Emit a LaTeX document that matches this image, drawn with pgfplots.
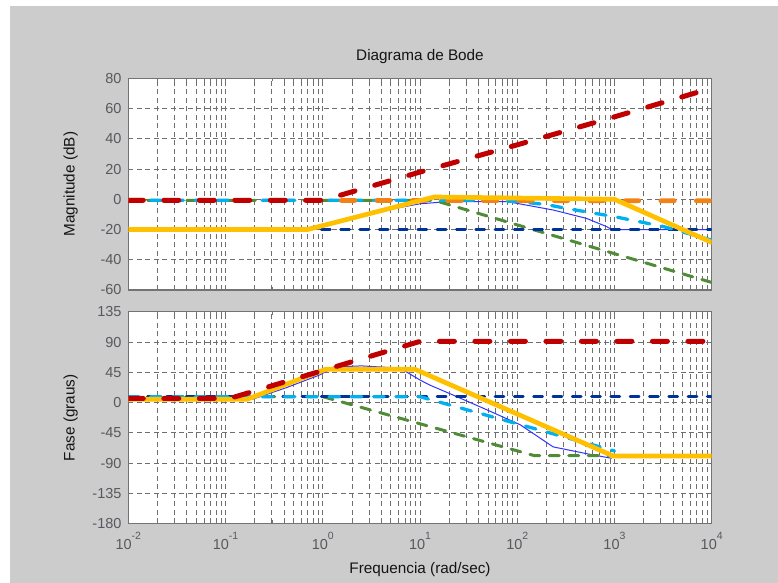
\documentclass[border=0pt]{standalone}
\usepackage{pgfplots}
\pgfplotsset{compat=1.18}
\usepackage{fontspec}
\setmainfont{Liberation Sans}
\definecolor{bg}{RGB}{204,204,204}
\definecolor{axc}{RGB}{115,115,115}
\definecolor{gridc}{RGB}{110,110,110}
\definecolor{lblc}{RGB}{88,88,95}
\definecolor{txtc}{RGB}{20,20,20}
\definecolor{red1}{RGB}{192,0,0}
\definecolor{org}{RGB}{242,130,20}
\definecolor{cyn}{RGB}{0,176,240}
\definecolor{navy}{RGB}{0,51,153}
\definecolor{grn}{RGB}{80,140,55}
\definecolor{ylw}{RGB}{255,192,0}
\definecolor{blue1}{RGB}{51,51,255}
\newcommand{\tsup}[1]{\raisebox{10.5bp}{\fontsize{10.5bp}{12bp}\selectfont #1}}
\begin{document}
\begin{tikzpicture}
\fill[white] (0,0) rectangle (778bp,583bp);
\fill[bg] (10bp,0) rectangle (778bp,577bp);
\begin{axis}[at={(128.3bp,293bp)}, anchor=south west,
  xmode=log, xmin=0.01, xmax=10000,
  scale only axis, width=583.4bp, height=211.7bp,
  axis background/.style={fill=white},
  xtick={0.01,0.1,1,10,100,1000,10000},
  minor xtick={0.02,0.03,0.04,0.05,0.06,0.07,0.08,0.09,0.2,0.3,0.4,0.5,0.6,0.7,0.8,0.9,2,3,4,5,6,7,8,9,20,30,40,50,60,70,80,90,200,300,400,500,600,700,800,900,2000,3000,4000,5000,6000,7000,8000,9000},
  xmajorgrids, xminorgrids, ymajorgrids,
  major grid style={draw=gridc, dash pattern=on 5bp off 3.5bp, line width=0.85bp},
  minor grid style={draw=gridc, dash pattern=on 5bp off 3.5bp, line width=0.85bp},
  axis line style={draw=axc, line width=1.2bp},
  tick style={draw=axc, line width=0.8bp},
  major tick length=5bp, minor tick length=3bp, tick align=inside,
  ticklabel style={font=\fontsize{14.5bp}{17bp}\selectfont, text=lblc, inner sep=0pt},
  yticklabel style={xshift=-6.6bp},
  title style={at={(axis description cs:0.5,1.0581)}, anchor=base, font=\fontsize{15.3bp}{18bp}\selectfont, text=txtc},
  ylabel style={at={(axis description cs:-0.0986,0.5)}, anchor=center, font=\fontsize{15.3bp}{18bp}\selectfont, text=txtc},
  ymin=-60, ymax=80,
  ytick={-60,-40,-20,0,20,40,60,80}, yticklabels={-60,-40,-20,0,20,40,60,80},
  xticklabels={}, title={Diagrama de Bode}, ylabel={Magnitude (dB)}]
\addplot[blue1, line width=1bp] coordinates {(0.01,-20) (0.6,-20) (1,-16.5) (2,-12) (4.6,-7) (10,-3) (20,-1.5) (80,-1.6) (234,-7.1) (513,-12.6) (832,-18.1) (933,-20) (10000,-20)};
\addplot[grn, line width=3bp, dash pattern=on 10bp off 9.5bp, line cap=round] coordinates {(0.01,-0.7) (14,-0.7) (10000,-55)};
\addplot[navy, line width=2.7bp, dash pattern=on 9bp off 10.3bp, line cap=round] coordinates {(0.01,-20) (10000,-20)};
\addplot[cyn, line width=3.3bp, dash pattern=on 10.5bp off 11.8bp, line cap=round] coordinates {(0.01,-0.7) (50,-0.7) (100,-1.5) (200,-3.5) (316,-6) (1000,-11.5) (3162,-18) (10000,-27)};
\addplot[org, line width=4.7bp, dash pattern=on 13.5bp off 22bp, line cap=round] coordinates {(0.01,-0.7) (10000,-1)};
\addplot[ylw, line width=4.7bp, line join=round, line cap=round] coordinates {(0.01,-20) (0.7,-20) (14,1.5) (1000,0) (10000,-28.5)};
\addplot[red1, line width=5bp, dash pattern=on 15bp off 20.5bp, line cap=round] coordinates {(0.01,-0.7) (1,-0.7) (10,18) (100,36) (1000,54.5) (10000,73.5)};
\end{axis}
\begin{axis}[at={(128.3bp,59.5bp)}, anchor=south west,
  xmode=log, xmin=0.01, xmax=10000,
  scale only axis, width=583.4bp, height=211.7bp,
  axis background/.style={fill=white},
  xtick={0.01,0.1,1,10,100,1000,10000},
  minor xtick={0.02,0.03,0.04,0.05,0.06,0.07,0.08,0.09,0.2,0.3,0.4,0.5,0.6,0.7,0.8,0.9,2,3,4,5,6,7,8,9,20,30,40,50,60,70,80,90,200,300,400,500,600,700,800,900,2000,3000,4000,5000,6000,7000,8000,9000},
  xmajorgrids, xminorgrids, ymajorgrids,
  major grid style={draw=gridc, dash pattern=on 5bp off 3.5bp, line width=0.85bp},
  minor grid style={draw=gridc, dash pattern=on 5bp off 3.5bp, line width=0.85bp},
  axis line style={draw=axc, line width=1.2bp},
  tick style={draw=axc, line width=0.8bp},
  major tick length=5bp, minor tick length=3bp, tick align=inside,
  ticklabel style={font=\fontsize{14.5bp}{17bp}\selectfont, text=lblc, inner sep=0pt},
  yticklabel style={xshift=-6.6bp},
  xticklabel style={yshift=-8.2bp},
  xlabel style={at={(axis description cs:0.5,-0.2385)}, anchor=base, font=\fontsize{15.3bp}{18bp}\selectfont, text=txtc},
  ylabel style={at={(axis description cs:-0.0986,0.5)}, anchor=center, font=\fontsize{15.3bp}{18bp}\selectfont, text=txtc},
  ymin=-180, ymax=135,
  ytick={-180,-135,-90,-45,0,45,90,135}, yticklabels={-180,-135,-90,-45,0,45,90,135},
  xticklabels={10\tsup{-2},10\tsup{-1},10\tsup{0},10\tsup{1},10\tsup{2},10\tsup{3},10\tsup{4}},
  xlabel={Frequencia (rad/sec)}, ylabel={Fase (graus)}]
\addplot[blue1, line width=1bp] coordinates {(0.01,5) (0.19,5) (0.42,22) (0.93,41) (1.3,53) (2.5,54.5) (5,52) (6.8,48) (10,33.5) (12.6,26) (22,11) (49,-11) (107,-33) (234,-66) (513,-76) (933,-83)};
\addplot[grn, line width=3bp, dash pattern=on 10bp off 9.5bp, line cap=round] coordinates {(0.01,8.7) (1,8.7) (150,-79) (10000,-79)};
\addplot[navy, line width=2.7bp, dash pattern=on 9bp off 10.3bp, line cap=round] coordinates {(0.01,8.7) (10000,8.7)};
\addplot[cyn, line width=3.3bp, dash pattern=on 10.5bp off 11.8bp, line cap=round] coordinates {(0.01,8.7) (10,8.7) (1000,-72)};
\addplot[ylw, line width=4.7bp, line join=round, line cap=round] coordinates {(0.01,4.8) (0.166,4.8) (1.07,49.4) (8.9,49.4) (973,-79.6) (10000,-79.6)};
\addplot[red1, line width=5bp, dash pattern=on 15bp off 20.5bp, line cap=round] coordinates {(0.01,6) (0.11,6) (10,91) (10000,91)};
\end{axis}
\end{tikzpicture}
\end{document}
